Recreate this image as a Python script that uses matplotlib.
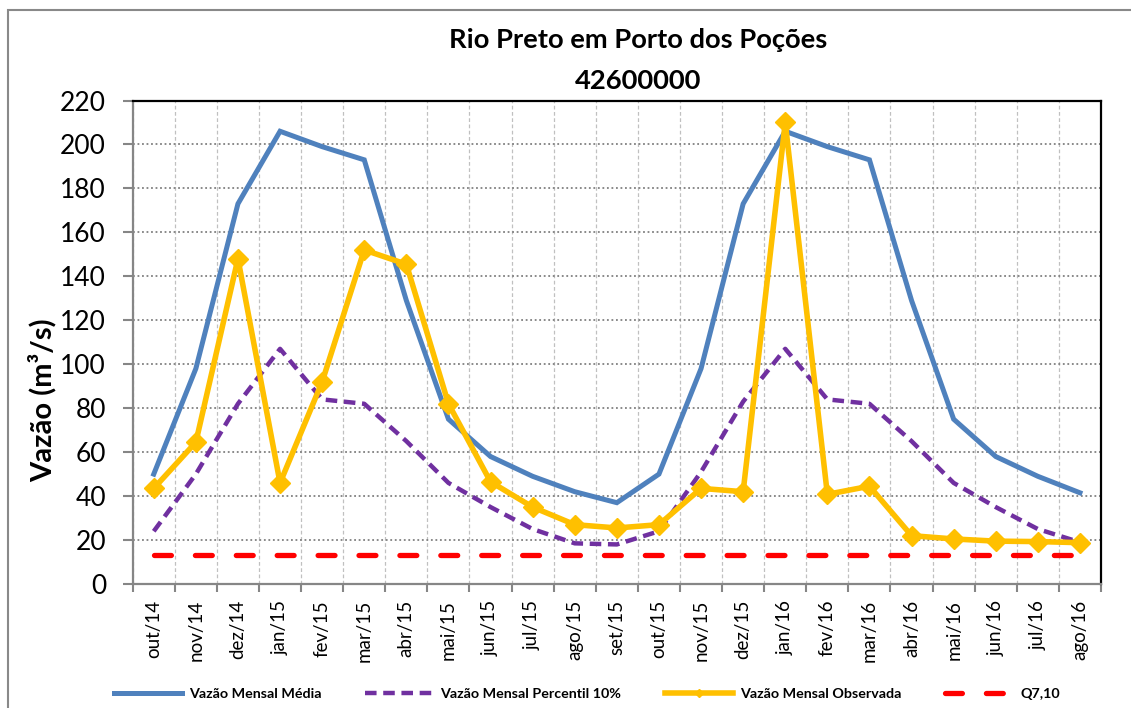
import matplotlib.pyplot as plt
import matplotlib.patches as mpatches
from matplotlib.ticker import FixedLocator
import numpy as np

plt.rcParams['font.family'] = ['Lato', 'DejaVu Sans']

# Monthly series
meses = ['out/14', 'nov/14', 'dez/14', 'jan/15', 'fev/15', 'mar/15', 'abr/15', 'mai/15',
         'jun/15', 'jul/15', 'ago/15', 'set/15', 'out/15', 'nov/15', 'dez/15', 'jan/16',
         'fev/16', 'mar/16', 'abr/16', 'mai/16', 'jun/16', 'jul/16', 'ago/16']
vazao_media = [50, 98, 173, 206, 199, 193, 129, 75, 58, 49, 42, 37,
               50, 98, 173, 206, 199, 193, 129, 75, 58, 49, 41.5]
vazao_p10 = [24, 50, 82, 107, 84, 82, 65, 46, 35, 25, 18.5, 18,
             24, 51, 83, 107, 84, 82, 65, 46, 35, 25, 19]
vazao_obs = [43.5, 64.5, 148, 46, 92, 152, 145.5, 82, 46.5, 35, 27, 25.5,
             27, 43.5, 42, 210, 40.8, 44.5, 22, 20.5, 19.5, 19.3, 18.8]
q710 = [13.3] * len(meses)

yticks = list(range(0, 221, 20))

fig = plt.figure(figsize=(11.31, 7.08), dpi=100)
ax = fig.add_axes([132.7 / 1131, 1 - 584 / 708, (1101 - 132.7) / 1131, (584 - 100.5) / 708])

x = np.arange(len(meses))
ax.plot(x, vazao_media, color='#4F81BD', lw=3.6, solid_joinstyle='miter',
        label='Vazão Mensal Média', zorder=3)
ax.plot(x, vazao_p10, color='#7030A0', lw=3.2, dashes=(2.6, 1.5),
        label='Vazão Mensal Percentil 10%', zorder=4)
ax.plot(x, vazao_obs, color='#FFC000', lw=4.0, marker='D', ms=10,
        markeredgecolor='#FFC000', label='Vazão Mensal Observada', zorder=5)
ax.plot(x, q710, color='#FF0000', lw=3.8, dashes=(3.2, 4.55), dash_capstyle='round',
        label='Q7,10', zorder=3)

ax.set_xlim(-0.5, len(meses) - 0.5)
ax.set_ylim(0, 220)
ax.set_yticks(yticks)
ax.set_xticks(x)
ax.set_xticklabels(meses, rotation=90, fontsize=13.5)
ax.xaxis.set_minor_locator(FixedLocator(np.arange(len(meses) + 1) - 0.5))
ax.tick_params(axis='x', which='major', length=0, pad=11.5)
ax.tick_params(axis='x', which='minor', length=5.8, width=1.5, color='#868686', direction='out')
ax.tick_params(axis='y', labelsize=19, length=7.2, width=1.5, color='#868686', pad=12)

ax.grid(axis='y', which='major', color='#808080', ls=(0, (1, 1.5)), lw=1.3)
ax.grid(axis='x', which='minor', color='#C0C0C0', ls=(0, (3, 2)), lw=0.9)
ax.set_axisbelow(True)

for s in ['left', 'bottom']:
    ax.spines[s].set_color('#868686')
    ax.spines[s].set_linewidth(1.6)
for s in ['top', 'right']:
    ax.spines[s].set_color('black')
    ax.spines[s].set_linewidth(1.6)

fig.text(638 / 1131, 1 - 40 / 708, 'Rio Preto em Porto dos Poções', ha='center', va='center',
         fontsize=19.7, fontweight='bold')
fig.text(638 / 1131, 1 - 81 / 708, '42600000', ha='center', va='center',
         fontsize=19.7, fontweight='bold')
fig.text(42 / 1131, 1 - 400 / 708, 'Vazão (m³/s)', rotation=90, ha='center', va='center',
         fontsize=21, fontweight='bold')

fig.legend(loc='center', bbox_to_anchor=(587 / 1131, 1 - 694 / 708), ncol=4, frameon=False,
           prop={'size': 10.3, 'weight': 'bold'}, handlelength=4.75, handletextpad=0.5,
           columnspacing=3.05, markerscale=0.45)

# outer chart border
fig.patches.append(mpatches.Rectangle((8 / 1131, -0.1), 1.2, 1.1 - 10 / 708, transform=fig.transFigure,
                                      fill=False, edgecolor='#898989', lw=1.5))

fig.savefig('out.png', dpi=100)
